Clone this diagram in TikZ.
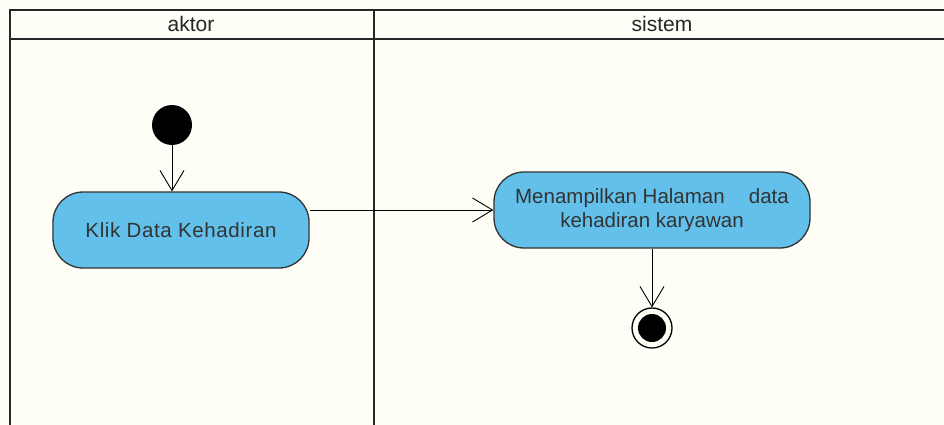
\documentclass[tikz,border=0pt]{standalone}
\usepackage{fontspec}
\setmainfont{Liberation Sans}
\usetikzlibrary{arrows.meta}
\definecolor{actfill}{RGB}{98,192,235}
\definecolor{bgcream}{RGB}{254,253,246}
\tikzset{
  lane/.style={line width=2.6pt, draw=black!85},
  action/.style={draw=black!80, line width=1.3pt, fill=actfill, rounded corners=30pt, minimum height=76pt, align=center, font=\fontsize{20.5}{24}\selectfont, text=black!80},
  flow/.style={line width=0.9pt, -{Straight Barb[length=20pt, width=24pt, line width=0.9pt]}},
  lanetitle/.style={font=\fontsize{21}{22}\selectfont, text=black!85}
}
\begin{document}
\begin{tikzpicture}[x=1pt, y=-1pt]
\useasboundingbox (0,0) rectangle (944,425);
\fill[bgcream] (0,0) rectangle (944,425);
% swimlanes
\coordinate (tl) at (10,10);
\coordinate (tr) at (944,10);
\coordinate (hl) at (10,39);
\coordinate (hr) at (944,39);
\coordinate (bl) at (10,425);
\coordinate (dt) at (374,10);
\coordinate (db) at (374,425);
\draw[lane] (tr) -- (tl) -- (bl);
\draw[lane] (hl) -- (hr);
\draw[lane] (dt) -- (db);
\node[lanetitle] (aktor) at (191,24) {aktor};
\node[lanetitle] (sistem) at (662,24) {sistem};
% nodes
\node[circle, fill=black, minimum size=40pt, inner sep=0pt] (start) at (172,125) {};
\node[action, minimum width=256pt] (klik) at (181,230) {\addfontfeature{LetterSpace=3}Klik Data Kehadiran};
\node[action, minimum width=316pt] (tampil) at (652,210) {Menampilkan Halaman\hspace{0.9em} data\\kehadiran karyawan};
\node[circle, draw=black, line width=1.3pt, minimum size=40pt, inner sep=0pt] (end) at (652,328) {};
\node[circle, fill=black, minimum size=28pt, inner sep=0pt] at (end) {};
% flows
\draw[flow] (start.south) -- (start.south |- klik.north);
\draw[flow] (klik.east |- tampil.west) -- (tampil.west);
\draw[flow] (tampil) -- (end);
\end{tikzpicture}
\end{document}
